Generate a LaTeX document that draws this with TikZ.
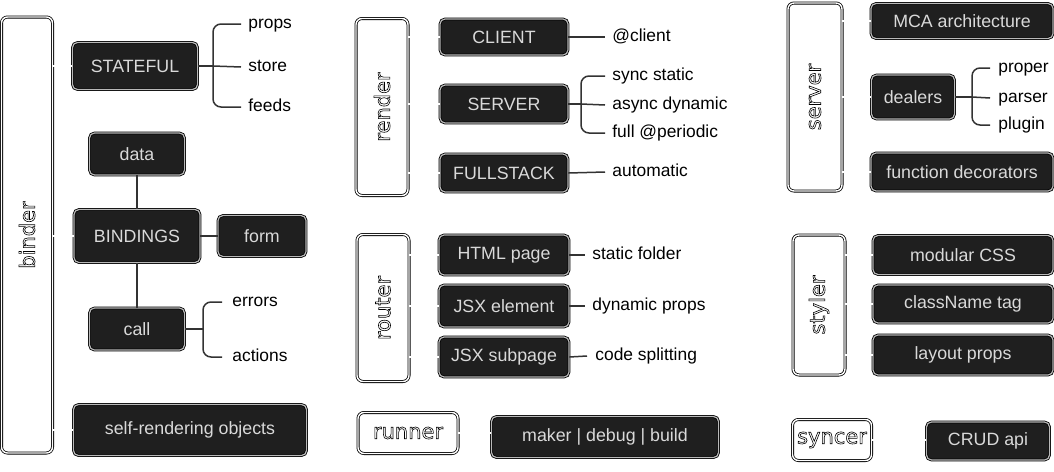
\documentclass[tikz,border=0pt]{standalone}
\usepackage{fontspec}
\setmainfont{Liberation Sans}
\newfontfamily\groupfont{DejaVu Sans}
\newcommand{\hollow}[1]{\special{pdf:literal direct 1 Tr 0.3 w}#1\special{pdf:literal direct 0 Tr}}

\begin{document}
\begin{tikzpicture}[x=0.5pt,y=-0.5pt]
\tikzset{group/.style = {draw=black, double=white, double distance=0.7pt, line width=0.4pt, rounded corners=3pt, fill=white, inner sep=0pt, font=\groupfont\fontsize{10.5}{12}\selectfont}}
\tikzset{item/.style = {draw=black, double=gray!55, double distance=0.6pt, line width=0.4pt, rounded corners=2.5pt, fill=black!88, text=white!85!black, inner sep=0pt, font=\fontsize{8.9}{10}\selectfont}}
\tikzset{leaf/.style = {anchor=west, inner sep=0pt, text height=6pt, text depth=1.6pt, font=\fontsize{8.7}{10}\selectfont}}
\tikzset{link/.style = {draw=black!80, double=white, double distance=0.6pt, line width=0.35pt}}
\tikzset{edge/.style = {draw=black!80, line width=0.75pt}}
\tikzset{brace/.style = {edge, rounded corners=4pt}}
\useasboundingbox (0,0) rectangle (1054,471);

% binder
\node[group, minimum width=25.5pt, minimum height=218pt] (binder) at (27,235) {\rotatebox{90}{\hollow{binder}}};
\node[item, minimum width=62.5pt, minimum height=23.5pt] (stateful) at (135,66) {STATEFUL};
\node[item, minimum width=47.5pt, minimum height=21pt] (data) at (137,154) {data};
\node[item, minimum width=63pt, minimum height=26.5pt] (bindings) at (137,236) {BINDINGS};
\node[item, minimum width=44pt, minimum height=20.5pt] (form) at (262,236) {form};
\node[item, minimum width=47.5pt, minimum height=21pt] (call) at (137,329) {call};
\node[item, minimum width=116.5pt, minimum height=25.5pt] (selfrender) at (190,430) {self-rendering objects};
\node[leaf] (props) at (248,24) {props};
\node[leaf] (store) at (248,67) {store};
\node[leaf] (feeds) at (248,107) {feeds};
\node[leaf] (errors) at (232,302) {errors};
\node[leaf] (actions) at (232,357) {actions};
\coordinate (statebrace) at (213,66);
\coordinate (callbrace) at (203,329);

% render
\node[group, minimum width=26pt, minimum height=88.5pt] (render) at (382,107) {\rotatebox{90}{\hollow{render}}};
\node[item, minimum width=64pt, minimum height=18pt] (client) at (504,37) {CLIENT};
\node[item, minimum width=64pt, minimum height=19pt] (server) at (504,104) {SERVER};
\node[item, minimum width=64pt, minimum height=19pt] (fullstack) at (504,173) {FULLSTACK};
\node[leaf] (atclient) at (612,37) {@client};
\node[leaf] (syncstatic) at (612,76) {sync static};
\node[leaf] (asyncdyn) at (612,105) {async dynamic};
\node[leaf] (periodic) at (612,133) {full @periodic};
\node[leaf] (automatic) at (612,172) {automatic};
\coordinate (serverbrace) at (581,104);

% router
\node[group, minimum width=26pt, minimum height=73.5pt] (router) at (383,308) {\rotatebox{90}{\hollow{router}}};
\node[item, minimum width=65pt, minimum height=20pt] (htmlpage) at (504,255) {HTML page};
\node[item, minimum width=65pt, minimum height=21pt] (jsxelem) at (504,306) {JSX element};
\node[item, minimum width=65pt, minimum height=20pt] (jsxsub) at (504,357) {JSX subpage};
\node[leaf] (staticfolder) at (592,255) {static folder};
\node[leaf] (dynprops) at (592,306) {dynamic props};
\node[leaf] (codesplit) at (595,356) {code splitting};

% runner
\node[group, minimum width=50pt, minimum height=20.5pt] (runner) at (408,433) {\hollow{runner}};
\node[item, minimum width=113.5pt, minimum height=20.5pt] (maker) at (605,437) {maker | debug | build};

% server
\node[group, minimum width=27pt, minimum height=94pt] (serv) at (815,97) {\rotatebox{90}{\hollow{server}}};
\node[item, minimum width=91pt, minimum height=17.5pt] (mca) at (962,21) {MCA architecture};
\node[item, minimum width=41.5pt, minimum height=22pt] (dealers) at (913,97) {dealers};
\node[item, minimum width=91pt, minimum height=19pt] (funcdeco) at (962,172) {function decorators};
\node[leaf] (proper) at (998,68) {proper};
\node[leaf] (parser) at (998,98) {parser};
\node[leaf] (plugin) at (998,125) {plugin};
\coordinate (dealbrace) at (972,97);

% styler
\node[group, minimum width=26pt, minimum height=70pt] (styler) at (819,305) {\rotatebox{90}{\hollow{styler}}};
\node[item, minimum width=90pt, minimum height=19.5pt] (modcss) at (963,255) {modular CSS};
\node[item, minimum width=90pt, minimum height=19pt] (classname) at (963,304) {className tag};
\node[item, minimum width=90pt, minimum height=20pt] (layoutprops) at (963,355) {layout props};

% syncer
\node[group, minimum width=39.5pt, minimum height=20.5pt] (syncer) at (832,440) {\hollow{syncer}};
\node[item, minimum width=61.5pt, minimum height=19pt] (crud) at (988,441) {CRUD api};

%edges
\draw[link] (stateful.west) -- (stateful.west -| binder.east);
\draw[link] (bindings.west) -- (bindings.west -| binder.east);
\draw[link] (selfrender.west) -- (selfrender.west -| binder.east);
\draw[edge] (data) -- (bindings);
\draw[edge] (bindings) -- (call);
\draw[edge] (bindings) -- (form);
\draw[edge] (stateful.east) -- (statebrace);
\draw[brace] ([xshift=-3.5pt]props.west) -| (statebrace) |- ([xshift=-3.5pt]feeds.west);
\draw[edge] (statebrace) -- ([xshift=-3.5pt]store.west);
\draw[edge] (call.east) -- (callbrace);
\draw[brace] ([xshift=-5pt]errors.west) -| (callbrace) |- ([xshift=-5pt]actions.west);

\draw[link] (client.west) -- (client.west -| render.east);
\draw[link] (server.west) -- (server.west -| render.east);
\draw[link] (fullstack.west) -- (fullstack.west -| render.east);
\draw[edge] (client.east) -- ([xshift=-3.5pt]atclient.west);
\draw[edge] (fullstack.east) -- ([xshift=-3.5pt]automatic.west);
\draw[edge] (server.east) -- (serverbrace);
\draw[brace] ([xshift=-3.5pt]syncstatic.west) -| (serverbrace) |- ([xshift=-3.5pt]periodic.west);
\draw[edge] (serverbrace) -- ([xshift=-3.5pt]asyncdyn.west);

\draw[link] (htmlpage.west) -- (htmlpage.west -| router.east);
\draw[link] (jsxelem.west) -- (jsxelem.west -| router.east);
\draw[link] (jsxsub.west) -- (jsxsub.west -| router.east);
\draw[edge] (htmlpage.east) -- ([xshift=-3.5pt]staticfolder.west);
\draw[edge] (jsxelem.east) -- ([xshift=-3.5pt]dynprops.west);
\draw[edge] (jsxsub.east) -- ([xshift=-4pt]codesplit.west);

\draw[link] (runner.east) -- (runner.east -| maker.west);

\draw[link] (mca.west) -- (mca.west -| serv.east);
\draw[link] (dealers.west) -- (dealers.west -| serv.east);
\draw[link] (funcdeco.west) -- (funcdeco.west -| serv.east);
\draw[edge] (dealers.east) -- (dealbrace);
\draw[brace] ([xshift=-4pt]proper.west) -| (dealbrace) |- ([xshift=-4pt]plugin.west);
\draw[edge] (dealbrace) -- ([xshift=-4pt]parser.west);

\draw[link] (modcss.west) -- (modcss.west -| styler.east);
\draw[link] (classname.west) -- (classname.west -| styler.east);
\draw[link] (layoutprops.west) -- (layoutprops.west -| styler.east);

\draw[link] (syncer.east) -- (syncer.east -| crud.west);
\end{tikzpicture}
\end{document}
